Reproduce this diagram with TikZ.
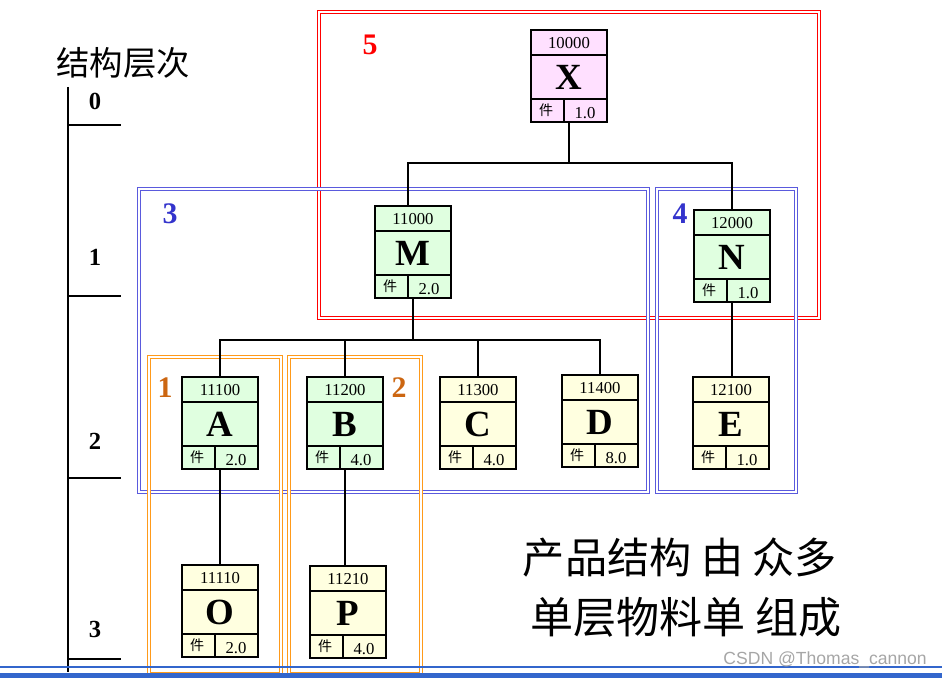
\documentclass[tikz,border=0pt]{standalone}
\usepackage{fontspec}
\setmainfont{Liberation Serif}
\setsansfont{Liberation Sans}
\newfontfamily\cjk{Noto Sans CJK SC}
\usepackage{xcolor}
\usepackage{tikz}
\usetikzlibrary{calc}

\definecolor{itempink}{HTML}{FFE0FF}
\definecolor{itemgreen}{HTML}{E0FFE0}
\definecolor{itemyellow}{HTML}{FFFFE0}
\definecolor{grpblue}{HTML}{5A5ADD}
\definecolor{grporange}{HTML}{FF9A1A}
\definecolor{lblblue}{HTML}{3333CC}
\definecolor{lblbrown}{HTML}{CC6611}
\definecolor{barblue}{HTML}{3366CC}

\tikzset{
  bomitem/.style={draw, line width=1.1pt, minimum width=1.52cm, minimum height=1.84cm, inner sep=0pt},
  grpbox/.style={double, line width=0.7pt, double distance=1.4pt},
  link/.style={line width=1pt},
  thinlink/.style={line width=0.6pt},
}

\begin{document}
\begin{tikzpicture}[x=0.02cm,y=-0.02cm]
    \useasboundingbox (0,0) rectangle (942,678);
    % group frames
    \draw[grpbox,draw=red] (319,12) rectangle (819,318);
    \draw[grpbox,draw=grpblue] (139,189) rectangle (648,492);
    \draw[grpbox,draw=grpblue] (657,189) rectangle (796,492);
    \draw[grpbox,draw=grporange] (149,357) rectangle (281,674);
    \draw[grpbox,draw=grporange] (289,357) rectangle (421,674);
    \foreach \g/\x/\y/\c in {5/370/45/red,3/170/214/lblblue,4/680/214/lblblue,1/165/388/lblbrown,2/399/388/lblbrown} {
      \node[text=\c,font=\bfseries\fontsize{17}{17}\selectfont] (grp\g) at (\x,\y) {\g};
    }
    % items
    \foreach \n/\x/\y/\code/\amt/\col in {X/569/76/10000/1.0/itempink,M/413/252/11000/2.0/itemgreen,N/732/256/12000/1.0/itemgreen,A/220/423/11100/2.0/itemgreen,B/345/423/11200/4.0/itemgreen,C/478/423/11300/4.0/itemyellow,D/600/421/11400/8.0/itemyellow,E/731/423/12100/1.0/itemyellow,O/220/611/11110/2.0/itemyellow,P/348/612/11210/4.0/itemyellow} {
      \node[bomitem,fill=\col] (\n) at (\x,\y) {};
      \draw[line width=1.1pt] ($(\n.north west)+(0,26)$) -- ($(\n.north east)+(0,26)$);
      \draw[line width=1.1pt] ($(\n.south west)+(0,-24)$) -- ($(\n.south east)+(0,-24)$);
      \draw[line width=1.1pt] ($(\n.south west)+(34,-24)$) -- ($(\n.south west)+(34,0)$);
      \node[font=\fontsize{9.5}{9.5}\selectfont] at ($(\n.north)+(0,14)$) {\code};
      \node[font=\bfseries\fontsize{21}{21}\selectfont] at ($(\n.center)+(0,1)$) {\n};
      \node[font=\cjk\fontsize{8}{8}\selectfont] at ($(\n.south west)+(16,-13)$) {件};
      \node[font=\fontsize{9.5}{9.5}\selectfont] at ($(\n.south west)+(55,-10)$) {\amt};
    }
    % links
    \coordinate (busX) at (569,163);
    \coordinate (busM) at (413,340);
    \draw[link] ([xshift=-0.1cm]M.north) |- (busX) -| (N.north);
    \draw[link] (X.south) -- (busX);
    \draw[thinlink] (M.south) -- (busM);
    \draw[link] (A.north) |- (busM) -| (D.north);
    \draw[link] (B.north) -- (B.north |- busM);
    \draw[thinlink] (C.north) -- (C.north |- busM);
    \draw[thinlink] (N.south) -- (N.south |- E.north);
    \draw[thinlink] (A.south) -- (O.north);
    \draw[thinlink] (B.south) -- (B.south |- P.north);
    % levels
    \node[font=\cjk\fontsize{19}{19}\selectfont] (title) at (123,63) {结构层次};
    \draw[line width=1.2pt] (68,87) -- (68,672);
    \foreach \lv/\ly/\ty in {0/101/125,1/257/296,2/441/478,3/629/659} {
      \node[font=\bfseries\fontsize{14}{14}\selectfont] (lv\lv) at (95,\ly) {\lv};
      \draw[line width=1.2pt] (68,\ty) -- (121,\ty);
    }
    \node[font=\cjk\fontsize{24}{24}\selectfont] (note1) at (680,557) {产品结构 由 众多};
    \node[font=\cjk\fontsize{24.5}{24.5}\selectfont] (note2) at (686,617) {单层物料单 组成};
    % footer
    \draw[barblue,line width=0.9pt] (0,667) -- (942,667);
    \fill[barblue] (0,673) rectangle (942,678);
    \node[text=gray!70,font=\sffamily\fontsize{10}{10}\selectfont,anchor=east] (mark) at (933,660) {CSDN @Thomas\_cannon};
  \end{tikzpicture}
\end{document}
